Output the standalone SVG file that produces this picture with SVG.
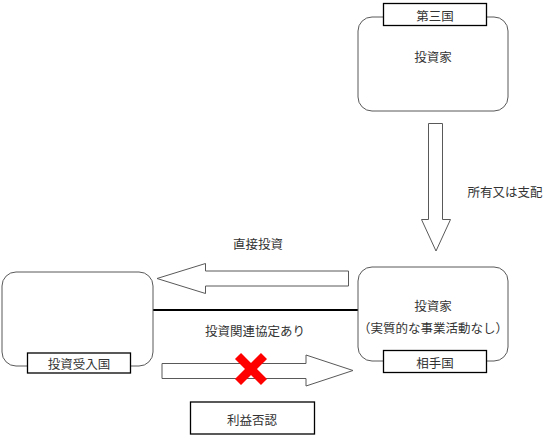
<svg xmlns="http://www.w3.org/2000/svg" width="545" height="439" viewBox="0 0 545 439">
<style>
.box{fill:#fff;stroke:#595959;stroke-width:1}
.lbl{fill:#fff;stroke:#000;stroke-width:1.3}
.arr{fill:#fff;stroke:#595959;stroke-width:1}
text{font-family:"Noto Sans CJK JP","Noto Sans CJK SC",sans-serif;font-size:12.5px;fill:#333;text-anchor:middle;dominant-baseline:central}
</style>
<rect width="545" height="439" fill="#fff"/>
<g id="connectors">
<path class="arr" d="M428.5,123.5 H442.5 V219.5 H450.5 L436,251 L421.5,219.5 H428.5 Z"/>
<text x="505" y="191">所有又は支配</text>
<path class="arr" d="M348.5,271 V286 H205.5 V293.5 L157,278.5 L205.5,263.5 V271 Z"/>
<text x="258" y="243">直接投資</text>
<line x1="153" y1="310" x2="358" y2="310" stroke="#000" stroke-width="2"/>
<text x="255" y="330">投資関連協定あり</text>
<path class="arr" d="M162,363.5 H306 V355 L353,370.5 L306,386 V378.5 H162 Z"/>
<path d="M238,356 L264,382 M264,356 L238,382" stroke="#ff0000" stroke-width="8.5" fill="none"/>
</g>
<g id="node-third">
<rect class="box" x="358" y="17" width="150" height="94" rx="14"/>
<rect class="lbl" x="383.5" y="3.5" width="103" height="22"/>
<text x="435" y="15">第三国</text>
<text x="433" y="56">投資家</text>
</g>
<g id="node-host">
<rect class="box" x="2" y="272" width="151" height="94" rx="14"/>
<rect class="lbl" x="27.5" y="353" width="103" height="20"/>
<text x="79" y="363">投資受入国</text>
</g>
<g id="node-partner">
<rect class="box" x="358" y="267" width="150" height="94" rx="14"/>
<rect class="lbl" x="383.5" y="350.5" width="103" height="22"/>
<text x="435" y="362">相手国</text>
<text x="433" y="305">投資家</text>
<text x="433" y="327">（実質的な事業活動なし）</text>
</g>
<g id="node-denial">
<rect class="lbl" x="190.5" y="402" width="124" height="32"/>
<text x="252" y="419">利益否認</text>
</g>
</svg>
